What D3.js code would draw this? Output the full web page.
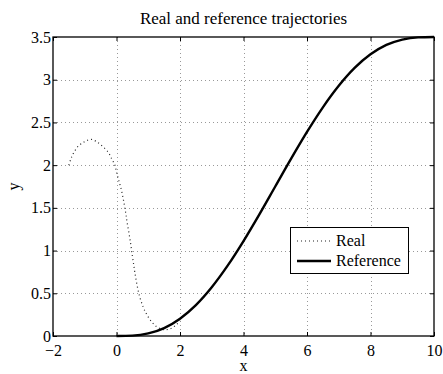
<!DOCTYPE html>
<html><head><meta charset="utf-8">
<script src="https://cdn.jsdelivr.net/npm/d3@7"></script>
<style>body{margin:0;background:#fff}svg{display:block}text{font-family:"Liberation Serif","Times New Roman",serif;fill:#000}</style>
</head><body>
<script>
const xTicks = [-2, 0, 2, 4, 6, 8, 10];
const yTicks = [0, 0.5, 1, 1.5, 2, 2.5, 3, 3.5];
const realX = [-1.5,-1.44,-1.37,-1.21,-1.07,-0.93,-0.77,-0.61,-0.47,-0.26,-0.16,-0.05,0.0,0.08,0.16,0.23,0.29,0.33,0.40,0.45,0.49,0.54,0.58,0.65,0.73,0.84,0.94,1.10,1.26,1.47,1.66,1.85,2.0];
const realY = [2.0,2.07,2.13,2.22,2.26,2.29,2.30,2.27,2.23,2.15,2.08,2.0,1.92,1.81,1.70,1.57,1.44,1.34,1.19,1.07,0.96,0.84,0.74,0.59,0.46,0.34,0.26,0.17,0.11,0.075,0.08,0.12,0.18];
const refX = [0,0.5,1,1.5,2,2.5,3,3.5,4,4.5,5,5.5,6,6.5,7,7.5,8,8.5,9,9.5,10];
const refY = [0,0.004,0.03,0.093,0.203,0.362,0.571,0.823,1.111,1.424,1.75,2.076,2.389,2.677,2.929,3.138,3.297,3.407,3.470,3.496,3.5];
const legendLabels = ["Real", "Reference"];

const W = 443, H = 374;
const m = {l: 53, r: 9, t: 37, b: 38};
const FONT = '"Liberation Serif","Times New Roman",serif';
const svg = d3.select("body").append("svg").attr("width", W).attr("height", H);
const x = d3.scaleLinear().domain([-2, 10]).range([m.l, W - m.r]);
const y = d3.scaleLinear().domain([0, 3.5]).range([H - m.b, m.t]);
const x0 = x.range()[0], x1 = x.range()[1], y0 = y.range()[0], y1 = y.range()[1];

// grid
const g = svg.append("g");
g.selectAll(".gx").data(xTicks.slice(1, -1)).enter().append("line")
  .attr("x1", d => Math.round(x(d)) + 0.5).attr("x2", d => Math.round(x(d)) + 0.5).attr("y1", y1).attr("y2", y0)
  .attr("stroke", "#999").attr("stroke-width", 1).attr("stroke-dasharray", "1,3");
g.selectAll(".gy").data(yTicks.slice(1, -1)).enter().append("line")
  .attr("y1", d => Math.round(y(d)) + 0.5).attr("y2", d => Math.round(y(d)) + 0.5).attr("x1", x0).attr("x2", x1)
  .attr("stroke", "#999").attr("stroke-width", 1).attr("stroke-dasharray", "1,3");

// axes
const axB = d3.axisBottom(x).tickValues(xTicks).tickSize(-4).tickPadding(9).tickFormat(d => d < 0 ? "\u2212" + Math.abs(d) : d);
const axL = d3.axisLeft(y).tickValues(yTicks).tickSize(-4).tickPadding(2).tickFormat(d => d);
const axT = d3.axisTop(x).tickValues(xTicks).tickSize(-4).tickFormat("");
const axR = d3.axisRight(y).tickValues(yTicks).tickSize(-4).tickFormat("");
function style(sel) {
  sel.attr("font-family", FONT).attr("font-size", 16);
  sel.select(".domain").remove();
  sel.selectAll("line").attr("stroke", "#000");
  sel.selectAll("text").style("font-size", "16px").style("font-family", FONT);
}
svg.append("g").attr("transform", `translate(0,${y0})`).call(axB).call(style);
svg.append("g").attr("transform", `translate(${x0},0)`).call(axL).call(style);
svg.append("g").attr("transform", `translate(0,${y1})`).call(axT).call(style);
svg.append("g").attr("transform", `translate(${x1},0)`).call(axR).call(style);
svg.append("rect").attr("x", x0).attr("y", y1).attr("width", x1 - x0).attr("height", y0 - y1)
  .attr("fill", "none").attr("stroke", "#000").attr("stroke-width", 1.3);

// lines
const realData = realX.map((v, i) => [v, realY[i]]);
const refData = refX.map((v, i) => [v, refY[i]]);
const line = d3.line().x(d => x(d[0])).y(d => y(d[1])).curve(d3.curveMonotoneX);
const lineC = d3.line().x(d => x(d[0])).y(d => y(d[1])).curve(d3.curveCatmullRom);
svg.append("path").attr("d", lineC(realData)).attr("fill", "none").attr("stroke", "#222")
  .attr("stroke-width", 1.2).attr("stroke-dasharray", "1,3");
svg.append("path").attr("d", line(refData)).attr("fill", "none").attr("stroke", "#000").attr("stroke-width", 2.4);

// title and labels
svg.append("text").attr("x", (x0 + x1) / 2).attr("y", 24).attr("text-anchor", "middle").style("font-size", "17px").text("Real and reference trajectories");
svg.append("text").attr("x", (x0 + x1) / 2).attr("y", 371).attr("text-anchor", "middle").style("font-size", "16px").text("x");
svg.append("text").attr("transform", `translate(19,${(y0 + y1) / 2}) rotate(-90)`).attr("text-anchor", "middle").style("font-size", "16px").text("y");

// legend
const lg = svg.append("g");
lg.append("rect").attr("x", 290.5).attr("y", 227.5).attr("width", 118).attr("height", 46)
  .attr("fill", "#fff").attr("stroke", "#000").attr("stroke-width", 1);
const rows = [{dash: "1,3", w: 1.2, c: "#222"}, {dash: null, w: 2.4, c: "#000"}];
legendLabels.forEach((lab, i) => {
  const yy = 241 + i * 20;
  lg.append("line").attr("x1", 297).attr("x2", 331).attr("y1", yy).attr("y2", yy)
    .attr("stroke", rows[i].c).attr("stroke-width", rows[i].w).attr("stroke-dasharray", rows[i].dash);
  lg.append("text").attr("x", 336).attr("y", yy + 5).style("font-size", "16px").text(lab);
});
</script>
</body></html>
